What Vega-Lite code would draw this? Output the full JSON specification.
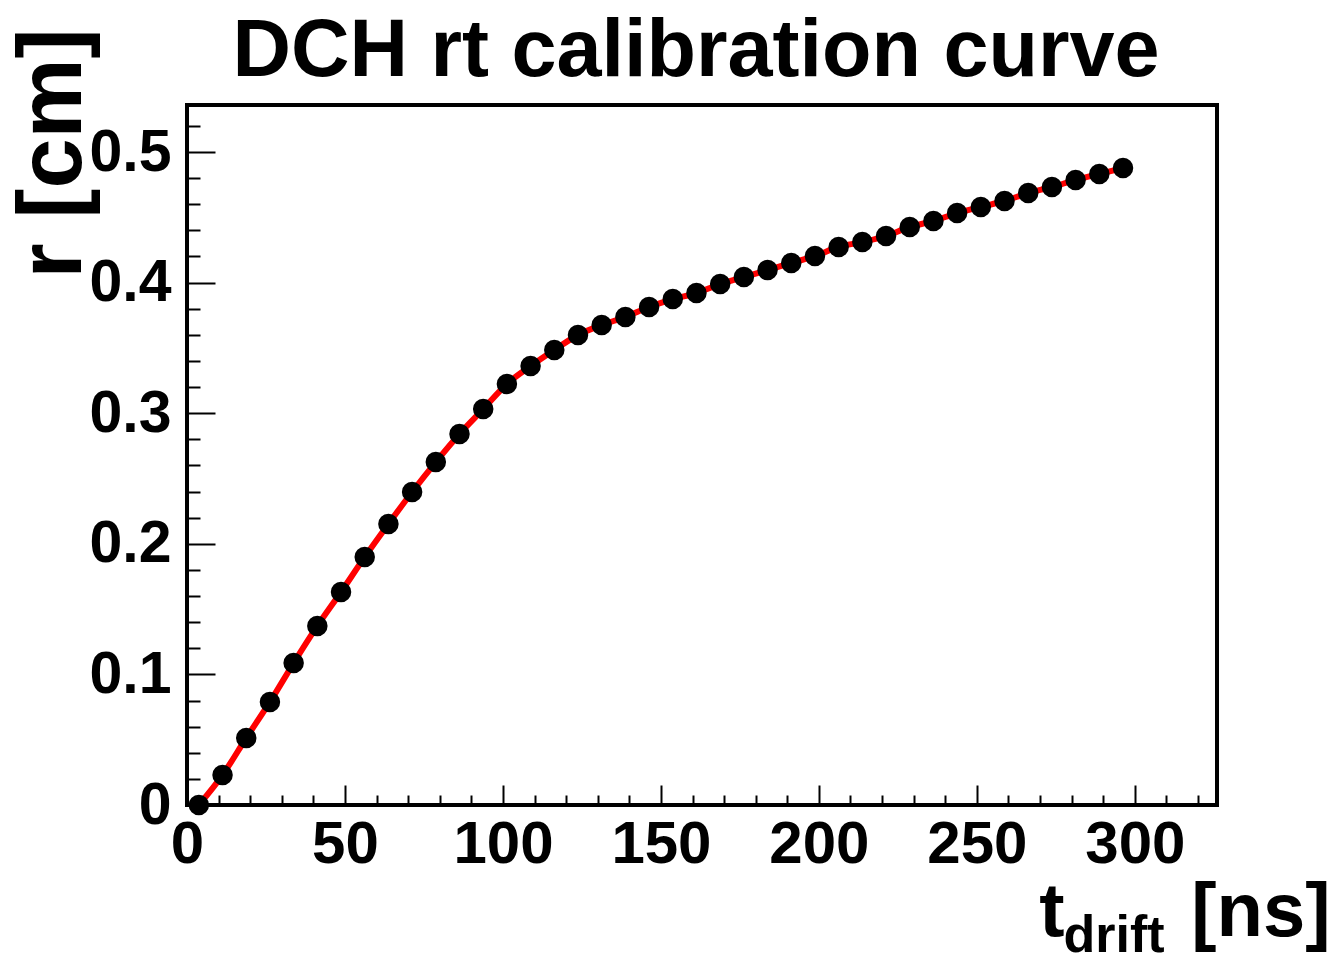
{
  "$schema": "https://vega.github.io/schema/vega-lite/v6.json",
  "width": 1030,
  "height": 700,
  "autosize": {"type": "none"},
  "padding": {"left": 187, "top": 105, "right": 116, "bottom": 152},
  "background": "white",
  "config": {
    "view": {"stroke": "black", "strokeWidth": 4},
    "axis": {
      "domain": false,
      "grid": false,
      "labelFont": "Liberation Sans",
      "labelFontWeight": "bold",
      "labelColor": "black",
      "titleFont": "Liberation Sans",
      "titleFontWeight": "bold",
      "titleColor": "black",
      "tickColor": "black",
      "tickWidth": 2,
      "labelFlush": false,
      "labelOverlap": false,
      "labelBound": false
    }
  },
  "title": {
    "text": "DCH rt calibration curve",
    "font": "Liberation Sans",
    "fontWeight": "bold",
    "fontSize": 81,
    "color": "black",
    "anchor": "middle",
    "baseline": "alphabetic",
    "offset": -129,
    "dx": -6
  },
  "data": {
    "values": [
      {"t": 3.75, "r": 0.0},
      {"t": 11.25, "r": 0.0230},
      {"t": 18.75, "r": 0.0513},
      {"t": 26.25, "r": 0.0789},
      {"t": 33.75, "r": 0.1087},
      {"t": 41.25, "r": 0.1371},
      {"t": 48.75, "r": 0.1631},
      {"t": 56.25, "r": 0.1899},
      {"t": 63.75, "r": 0.2152},
      {"t": 71.25, "r": 0.2397},
      {"t": 78.75, "r": 0.2626},
      {"t": 86.25, "r": 0.2841},
      {"t": 93.75, "r": 0.3032},
      {"t": 101.25, "r": 0.3224},
      {"t": 108.75, "r": 0.3361},
      {"t": 116.25, "r": 0.3484},
      {"t": 123.75, "r": 0.3599},
      {"t": 131.25, "r": 0.3675},
      {"t": 138.75, "r": 0.3737},
      {"t": 146.25, "r": 0.3813},
      {"t": 153.75, "r": 0.3874},
      {"t": 161.25, "r": 0.3920},
      {"t": 168.75, "r": 0.3989},
      {"t": 176.25, "r": 0.4043},
      {"t": 183.75, "r": 0.4096},
      {"t": 191.25, "r": 0.4150},
      {"t": 198.75, "r": 0.4204},
      {"t": 206.25, "r": 0.4273},
      {"t": 213.75, "r": 0.4311},
      {"t": 221.25, "r": 0.4357},
      {"t": 228.75, "r": 0.4426},
      {"t": 236.25, "r": 0.4472},
      {"t": 243.75, "r": 0.4533},
      {"t": 251.25, "r": 0.4579},
      {"t": 258.75, "r": 0.4625},
      {"t": 266.25, "r": 0.4686},
      {"t": 273.75, "r": 0.4732},
      {"t": 281.25, "r": 0.4786},
      {"t": 288.75, "r": 0.4832},
      {"t": 296.25, "r": 0.4877}
    ]
  },
  "layer": [
    {
      "mark": {"type": "line", "color": "#ff0000", "strokeWidth": 6, "interpolate": "monotone"},
      "encoding": {
        "x": {
          "field": "t",
          "type": "quantitative",
          "scale": {"domain": [0, 326], "nice": false, "zero": false},
          "axis": {
            "orient": "bottom",
            "values": [0, 50, 100, 150, 200, 250, 300],
            "format": "d",
            "tickSize": -20,
            "labelFontSize": 60,
            "labelPadding": 30,
            "title": "t\u00a0\u00a0\u00a0\u00a0\u00a0\u00a0[ns]",
            "titleFontSize": 76,
            "titleX": 1143,
            "titleY": 130,
            "titleAlign": "right",
            "titleBaseline": "alphabetic"
          }
        },
        "y": {
          "field": "r",
          "type": "quantitative",
          "scale": {"domain": [0, 0.536], "nice": false, "zero": false},
          "axis": {
            "orient": "left",
            "values": [0, 0.1, 0.2, 0.3, 0.4, 0.5],
            "labelExpr": "datum.value == 0 ? '0' : format(datum.value, '.1f')",
            "tickSize": -28,
            "labelFontSize": 59,
            "labelPadding": 44,
            "title": "r [cm]",
            "titleFontSize": 90,
            "titleAngle": 270,
            "titleX": -107,
            "titleY": 173,
            "titleAlign": "left",
            "titleBaseline": "alphabetic"
          }
        }
      }
    },
    {
      "mark": {"type": "point", "filled": true, "color": "black", "size": 420, "opacity": 1, "shape": "circle"},
      "encoding": {
        "x": {
          "field": "t",
          "type": "quantitative",
          "axis": {
            "orient": "bottom",
            "values": [10, 20, 30, 40, 60, 70, 80, 90, 110, 120, 130, 140, 160, 170, 180, 190, 210, 220, 230, 240, 260, 270, 280, 290, 310, 320],
            "labels": false,
            "tickSize": -10,
            "title": "drift",
            "titleFontSize": 52,
            "titleX": 876,
            "titleY": 146,
            "titleAlign": "left",
            "titleBaseline": "alphabetic"
          }
        },
        "y": {
          "field": "r",
          "type": "quantitative",
          "axis": {
            "orient": "left",
            "values": [0.02, 0.04, 0.06, 0.08, 0.12, 0.14, 0.16, 0.18, 0.22, 0.24, 0.26, 0.28, 0.32, 0.34, 0.36, 0.38, 0.42, 0.44, 0.46, 0.48, 0.52],
            "labels": false,
            "tickSize": -13,
            "title": null
          }
        }
      }
    }
  ],
  "resolve": {"axis": {"x": "independent", "y": "independent"}}
}
